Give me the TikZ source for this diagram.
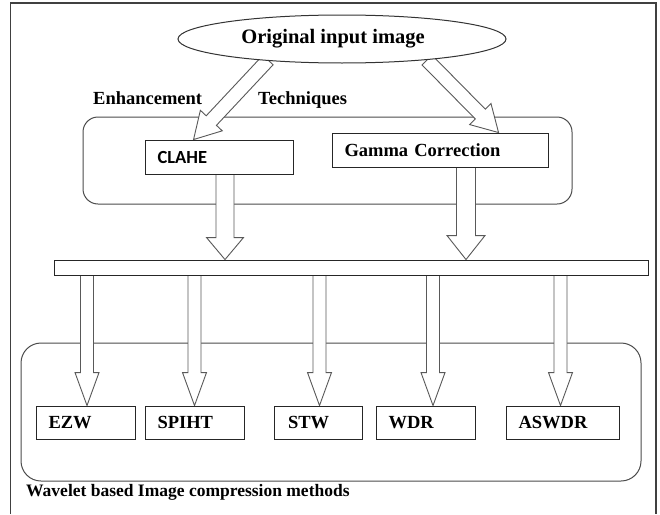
\documentclass[tikz,border=0pt]{standalone}
\usepackage{fontspec}
\setmainfont{Liberation Serif}
\newfontfamily\calibrifont{Carlito}
\usetikzlibrary{calc,shapes.geometric}
\pgfdeclarelayer{bg}
\pgfsetlayers{bg,main}
\newcommand\fatarrow[5]{%
  \coordinate (fa-h) at ($(#2)!#5!(#1)$);
  \draw[fatstyle] ($(#1)!#3!90:(#2)$) -- ($(fa-h)!#3!90:(#2)$) -- ($(fa-h)!#4!90:(#2)$) -- (#2)
    -- ($(fa-h)!#4!-90:(#2)$) -- ($(fa-h)!#3!-90:(#2)$) -- ($(#1)!#3!-90:(#2)$) -- cycle;
}
\tikzset{
  frameline/.style={draw=black!75, line width=1.3pt},
  container/.style={draw=black!70, line width=1pt, rounded corners=15pt, inner sep=0pt},
  boxnode/.style={draw=black!85, line width=0.9pt, fill=white, minimum height=34pt,
    inner xsep=12.5pt, inner ysep=0pt, text height=12.5pt, text depth=0pt, align=left,
    font=\bfseries\fontsize{18.5}{20}\selectfont},
  fatstyle/.style={draw=black!65, line width=0.9pt, fill=white, line join=miter},
  lbl/.style={font=\bfseries\fontsize{18.5}{20}\selectfont, inner sep=0pt, anchor=base west},
  ell/.style={ellipse, draw=black!80, line width=1pt, fill=white, minimum width=328pt,
    minimum height=48pt, inner sep=0pt, font=\bfseries\fontsize{20.5}{22}\selectfont},
}
\begin{document}
\begin{tikzpicture}[x=1pt,y=-1pt]
\useasboundingbox (0,0) rectangle (660,514);
\begin{pgfonlayer}{bg}
\fill[white] (0,0) rectangle (660,514);
\end{pgfonlayer}
\draw[frameline] (10.5,514) -- (10.5,3) -- (656,3) -- (656,514);

% main nodes
\node[ell] (orig) at (342,39) {\kern-18pt Original input image};
\node[lbl] (enh) at (93,104) {Enhancement};
\node[lbl] (tech) at (258,104) {Techniques};
\node[boxnode, text width=123pt, font=\calibrifont\bfseries\fontsize{18.5}{20}\selectfont] (clahe) at (219,157) {CLAHE};
\node[boxnode, text width=191pt] (gamma) at (440,150) {Gamma Correction};
\node[draw=black!85, line width=0.9pt, fill=white, minimum width=594pt, minimum height=15pt, inner sep=0pt] (bar) at (351,267.5) {};
\node[boxnode, minimum height=33pt, text width=74pt] (ezw) at (85.5,422.5) {EZW};
\node[boxnode, minimum height=33pt, text width=74pt] (spiht) at (194.5,422.5) {SPIHT};
\node[boxnode, minimum height=33pt, text width=63pt, inner xsep=12.5pt] (stw) at (318,422.5) {\kern1.5pt STW};
\node[boxnode, minimum height=33pt, text width=74pt] (wdr) at (425.5,422.5) {WDR};
\node[boxnode, minimum height=33pt, text width=88pt] (aswdr) at (562.5,422.5) {ASWDR};
\node[lbl, font=\bfseries\fontsize{17.5}{19}\selectfont] (wav) at (26,496) {Wavelet based Image compression methods};

\begin{pgfonlayer}{bg}
  \node[container, minimum width=489pt, minimum height=87pt] (enhbox) at (327.5,160.5) {};
  \node[container, rounded corners=20pt, minimum width=620pt, minimum height=138pt] (wavbox) at (331,412) {};

  % diagonal arrows from the ellipse
  \coordinate (s1) at ($(orig.center)+(-74,21)$);
  \coordinate (e1) at ($(clahe.north west)+(49,0)$);
  \fatarrow{s1}{e1}{7pt}{15pt}{26pt}
  \coordinate (s2) at ($(orig.center)+(85,21)$);
  \coordinate (e2) at ($(gamma.north west)+(167,0)$);
  \fatarrow{s2}{e2}{7pt}{15pt}{26pt}

  % vertical arrows to the bar
  \coordinate (s3) at ([xshift=6pt]clahe.south);
  \coordinate (e3) at (s3 |- bar.north);
  \fatarrow{s3}{e3}{9pt}{18.5pt}{22pt}
  \coordinate (s4) at ([xshift=26pt]gamma.south);
  \coordinate (e4) at (s4 |- bar.north);
  \fatarrow{s4}{e4}{9.5pt}{19pt}{24pt}

  % arrows from the bar to the methods
  \coordinate (e5) at ([xshift=1.5pt]ezw.north);
  \coordinate (s5) at (bar.south -| e5);
  \fatarrow{s5}{e5}{6.5pt}{12pt}{33pt}
  \coordinate (e6) at (spiht.north);
  \coordinate (s6) at (bar.south -| e6);
  \fatarrow{s6}{e6}{6.5pt}{12pt}{33pt}
  \coordinate (e7) at ([xshift=1.5pt]stw.north);
  \coordinate (s7) at (bar.south -| e7);
  \fatarrow{s7}{e7}{6.5pt}{12pt}{33pt}
  \coordinate (e8) at ([xshift=7.5pt]wdr.north);
  \coordinate (s8) at (bar.south -| e8);
  \fatarrow{s8}{e8}{6.5pt}{12pt}{33pt}
  \coordinate (e9) at ([xshift=-2pt]aswdr.north);
  \coordinate (s9) at (bar.south -| e9);
  \fatarrow{s9}{e9}{6.5pt}{12pt}{33pt}
\end{pgfonlayer}
\end{tikzpicture}
\end{document}
